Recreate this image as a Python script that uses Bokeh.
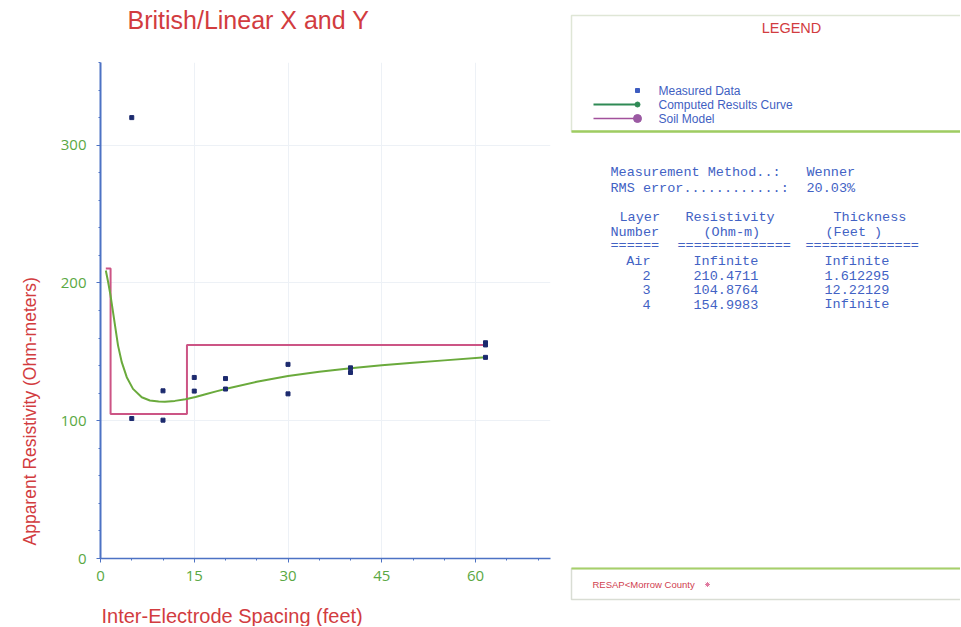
from bokeh.plotting import figure
from bokeh.models import Range1d, Title, FixedTicker
from bokeh.layouts import row
from bokeh.core.properties import value
from bokeh.embed import file_html
from bokeh.resources import INLINE

# ---------------- data ----------------
title_text = "British/Linear X and Y"
x_label = "Inter-Electrode Spacing (feet)"
y_label = "Apparent Resistivity (Ohm-meters)"
x_ticks = [0, 15, 30, 45, 60]
y_ticks = [0, 100, 200, 300]

meas_x = [5, 5, 10, 10, 15, 15, 20, 20, 30, 30, 40, 40, 61.6, 61.6, 61.6]
meas_y = [320, 101.6, 121.7, 100.4, 131.4, 121.5, 130.6, 123, 140.9, 119.5, 138.4, 135, 156.6, 155, 146]

curve_x = [0.85, 1.22, 1.6, 2.0, 2.4, 2.8, 3.4, 4.2, 5.2, 6.6, 7.9, 9.3, 10.3, 11.9, 13.6,
           15.2, 16.8, 18.5, 20.3, 25, 30, 35, 40, 45, 50, 55, 61.6]
curve_y = [209, 200.7, 191, 179, 166.8, 154.7, 142.5, 131.6, 123.1, 117, 114.7, 114, 113.7, 114.4, 115.6,
           117.2, 119.2, 121.3, 123.4, 128.3, 132.4, 135.5, 138, 140.2, 142, 143.8, 146]

layer_names = ["Air", "2", "3", "4"]
layer_res_txt = ["Infinite", "210.4711", "104.8764", "154.9983"]
layer_thk_txt = ["Infinite", "1.612295", "12.22129", "Infinite"]
layer_res = [210.4711, 104.8764, 154.9983]
layer_thk = [1.612295, 12.22129]
model_start_x = 0.85
model_end_x = 61.6

method_label = "Measurement Method..:"
method_value = "Wenner"
rms_label = "RMS error............:"
rms_value = "20.03%"
legend_items = ["Measured Data", "Computed Results Curve", "Soil Model"]
footer_text = "RESAP<Morrow County"

# soil model step line from the layer table
d1 = layer_thk[0]
d2 = layer_thk[0] + layer_thk[1]
soil_x = [model_start_x, d1, d1, d2, d2, model_end_x]
soil_y = [layer_res[0], layer_res[0], layer_res[1], layer_res[1], layer_res[2], layer_res[2]]

# ---------------- styles ----------------
RED = "#d23c3f"
GREEN_TXT = "#5aa843"
AXIS_BLUE = "#4d72c4"
DOT = "#1c2a6e"
CURVE = "#6aaa3c"
SOIL = "#cc5585"
INFO = "#4262c4"

# ---------------- left chart ----------------
LW, H = 568, 626
p = figure(width=LW, height=H, x_range=Range1d(0, 72), y_range=Range1d(0, 360), title=None,
           output_backend="svg", toolbar_location=None,
           min_border_left=100, min_border_right=18, min_border_top=62, min_border_bottom=H - 558,
           background_fill_color="white", border_fill_color="white")
p.outline_line_color = None
try:
    p.frame_align = False
except Exception:
    pass


def spacer(size):
    return Title(text=" ", text_font_size="1px", standoff=size - 1)


# title (spacer between frame and title text)
p.add_layout(spacer(27), "above")
p.add_layout(Title(text=title_text, align="left", offset=27, text_font="Liberation Sans",
                   text_font_size="25px", text_font_style="normal", text_color=RED,
                   standoff=0), "above")

p.xaxis.ticker = FixedTicker(ticks=x_ticks, minor_ticks=list(range(0, 72, 5)))
p.yaxis.ticker = FixedTicker(ticks=y_ticks, minor_ticks=list(range(0, 361, 20)))
for ax in (p.xaxis[0], p.yaxis[0]):
    ax.axis_line_color = AXIS_BLUE
    ax.major_tick_line_color = AXIS_BLUE
    ax.minor_tick_line_color = AXIS_BLUE
    ax.major_tick_out = 4
    ax.major_tick_in = 0
    ax.minor_tick_out = 2
    ax.minor_tick_in = 0
    ax.major_label_text_color = GREEN_TXT
    ax.major_label_text_font = "Open Sans"
    ax.major_label_text_font_size = "15px"
p.yaxis.axis_line_width = 2
p.xaxis.axis_line_width = 1.5
p.yaxis.major_label_standoff = 10
p.xaxis.major_label_standoff = 8

p.xgrid.grid_line_color = "#edf1f6"
p.ygrid.grid_line_color = "#edf1f6"

# x label (spacer between axis and label)
p.add_layout(spacer(17), "below")
p.add_layout(Title(text=x_label, align="left", offset=1, text_font="Liberation Sans",
                   text_font_size="20px", text_font_style="normal", text_color=RED,
                   standoff=0), "below")
p.add_layout(Title(text=y_label, align="left", offset=13, text_font="Liberation Sans",
                   text_font_size="17.5px", text_font_style="normal", text_color=RED,
                   standoff=35), "left")

p.line(soil_x, soil_y, line_color=SOIL, line_width=2)
p.line(curve_x, curve_y, line_color=CURVE, line_width=2, line_join="round")
p.scatter(meas_x, meas_y, marker="square", size=4, fill_color=DOT, line_color=DOT)

# ---------------- right panels (page pixel coordinates) ----------------
RW = 960 - LW
q = figure(width=RW, height=H, x_range=Range1d(LW, LW + RW), y_range=Range1d(H, 0),
           output_backend="svg", toolbar_location=None, x_axis_location=None, y_axis_location=None,
           min_border=0, background_fill_color="white", border_fill_color="white")
q.outline_line_color = None
q.grid.visible = False
try:
    q.frame_align = False
except Exception:
    pass

# legend box
q.quad(left=[571], right=[990], top=[15], bottom=[131], fill_color="white",
       line_color="#dfe6d6", line_width=1.5)
q.line([571, 990], [131, 131], line_color="#9fcc62", line_width=2.5)
q.text(x=[791], y=[27], text=["LEGEND"], text_font=value("Liberation Sans"), text_font_size="14.5px",
       text_color=RED, text_align="center", text_baseline="middle")
q.scatter([637], [90], marker="square", size=4, fill_color="#3d5cc0", line_color="#3d5cc0")
q.line([593, 637], [104, 104], line_color="#2f8a55", line_width=2)
q.scatter([637], [104], marker="circle", size=5, fill_color="#2f8a55", line_color="#2f8a55")
q.line([593, 637], [118, 118], line_color="#a2519c", line_width=1.5)
q.scatter([637], [118], marker="circle", size=8, fill_color="#9b5aa3", line_color="#9b5aa3")
q.text(x=[658, 658, 658], y=[90, 104, 118], text=legend_items, text_font=value("Liberation Sans"),
       text_font_size="12px", text_color="#3f5fc2", text_baseline="middle")

# info table
mono = value("Liberation Mono")
FS = "13.5px"
q.text(x=[610, 610], y=[172, 188], text=[method_label, rms_label], text_font=mono,
       text_font_size=FS, text_color=INFO, text_baseline="middle")
q.text(x=[806, 806], y=[172, 188], text=[method_value, rms_value], text_font=mono,
       text_font_size=FS, text_color=INFO, text_baseline="middle")
q.text(x=[619, 685, 833], y=[217, 217, 217], text=["Layer", "Resistivity", "Thickness"],
       text_font=mono, text_font_size=FS, text_color=INFO, text_baseline="middle")
q.text(x=[610, 703, 825], y=[232, 232, 232], text=["Number", "(Ohm-m)", "(Feet  )"],
       text_font=mono, text_font_size=FS, text_color=INFO, text_baseline="middle")
q.text(x=[610, 677, 805], y=[245, 245, 245], text=["======", "==============", "=============="],
       text_font=mono, text_font_size=FS, text_color=INFO, text_baseline="middle")
rows_y = [261, 275, 289, 304]
q.text(x=[650] * 4, y=rows_y, text=layer_names, text_font=mono, text_font_size=FS,
       text_color=INFO, text_align="right", text_baseline="middle")
q.text(x=[693] * 4, y=rows_y, text=layer_res_txt, text_font=mono, text_font_size=FS,
       text_color=INFO, text_baseline="middle")
q.text(x=[824] * 4, y=rows_y, text=layer_thk_txt, text_font=mono, text_font_size=FS,
       text_color=INFO, text_baseline="middle")

# footer box
q.quad(left=[571], right=[990], top=[568], bottom=[599], fill_color="white",
       line_color="#d9ddd4", line_width=1.5)
q.line([571, 990], [568, 568], line_color="#a6d06a", line_width=2)
q.text(x=[592], y=[584], text=[footer_text], text_font=value("Liberation Sans"),
       text_font_size="9.5px", text_color="#d0404f", text_baseline="middle")
q.scatter([707], [584], marker="asterisk", size=5, line_color="#e07aa0")

layout = row(p, q, spacing=0)
open("out.html", "w").write(file_html(layout, INLINE))
